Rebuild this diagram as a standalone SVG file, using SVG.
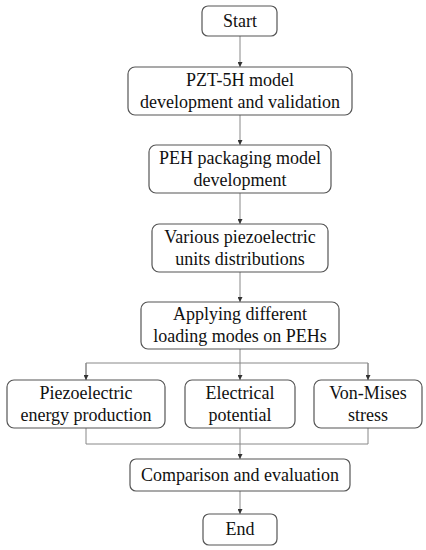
<svg xmlns="http://www.w3.org/2000/svg" width="426" height="550" viewBox="0 0 426 550">
<style>
.box{fill:#fff;stroke:#555;stroke-width:1.2}
.t{font-family:"Liberation Serif",serif;font-size:18px;fill:#111;text-anchor:middle}
.c{fill:none;stroke:#888;stroke-width:1}
</style>
<defs>
<marker id="a" viewBox="0 0 6 6" refX="6" refY="3" markerWidth="5" markerHeight="5" markerUnits="userSpaceOnUse" orient="auto">
<path d="M0,0L6,3L0,6z" fill="#333"/>
</marker>
</defs>
<rect width="426" height="550" fill="#fff"/>
<g id="connectors">
<path class="c" d="M240,36V67" marker-end="url(#a)"/>
<path class="c" d="M240,115V145" marker-end="url(#a)"/>
<path class="c" d="M240,193V224" marker-end="url(#a)"/>
<path class="c" d="M240,272V302" marker-end="url(#a)"/>
<path class="c" d="M240,349V380" marker-end="url(#a)"/>
<path class="c" d="M86,380V363H368V380"/>
<path class="c" d="M86,363V380" marker-end="url(#a)"/>
<path class="c" d="M368,363V380" marker-end="url(#a)"/>
<path class="c" d="M86,428V444H368V428"/>
<path class="c" d="M240,428V459" marker-end="url(#a)"/>
<path class="c" d="M240,491V514" marker-end="url(#a)"/>
</g>
<g id="start"><rect class="box" x="202" y="6" width="75" height="30" rx="6"/><text class="t" x="240" y="27">Start</text></g>
<g id="pzt"><rect class="box" x="128" y="67" width="224" height="48" rx="7"/><text class="t" x="240" y="86">PZT-5H model</text><text class="t" x="240" y="108">development and validation</text></g>
<g id="peh"><rect class="box" x="149" y="145" width="182" height="48" rx="7"/><text class="t" x="240" y="164">PEH packaging model</text><text class="t" x="240" y="186">development</text></g>
<g id="various"><rect class="box" x="152" y="224" width="176" height="48" rx="7"/><text class="t" x="240" y="243">Various piezoelectric</text><text class="t" x="240" y="265">units distributions</text></g>
<g id="applying"><rect class="box" x="141" y="302" width="198" height="47" rx="7"/><text class="t" x="240" y="320">Applying different</text><text class="t" x="240" y="342">loading modes on PEHs</text></g>
<g id="energy"><rect class="box" x="7" y="380" width="158" height="48" rx="7"/><text class="t" x="86" y="399">Piezoelectric</text><text class="t" x="86" y="421">energy production</text></g>
<g id="potential"><rect class="box" x="185" y="380" width="110" height="48" rx="7"/><text class="t" x="240" y="399">Electrical</text><text class="t" x="240" y="421">potential</text></g>
<g id="stress"><rect class="box" x="314" y="380" width="108" height="48" rx="7"/><text class="t" x="368" y="399">Von-Mises</text><text class="t" x="368" y="421">stress</text></g>
<g id="comparison"><rect class="box" x="130" y="459" width="220" height="32" rx="6"/><text class="t" x="240" y="481">Comparison and evaluation</text></g>
<g id="end"><rect class="box" x="203" y="514" width="74" height="31" rx="6"/><text class="t" x="240" y="535">End</text></g>
</svg>
